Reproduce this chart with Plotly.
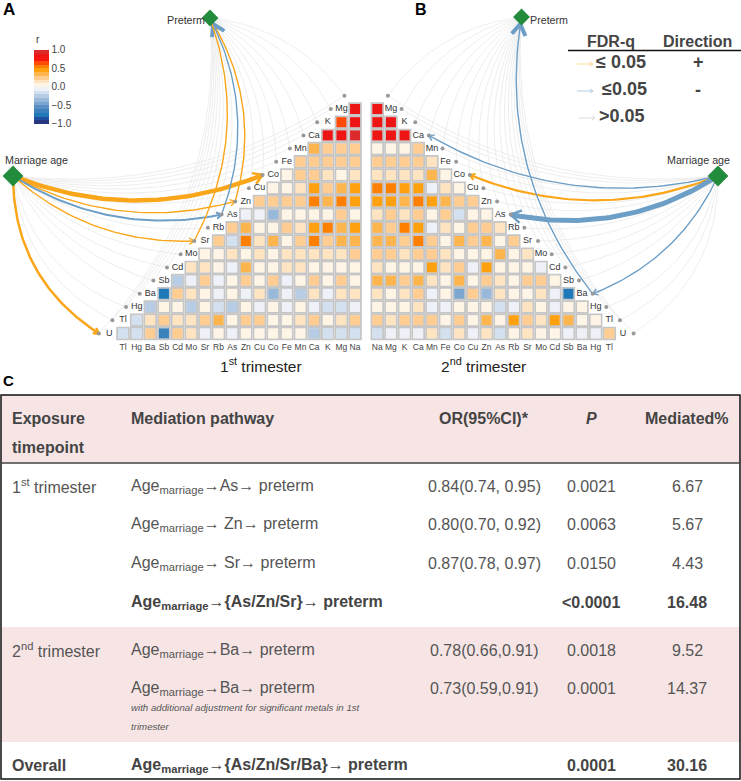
import math
import plotly.graph_objects as go

# ---------- data ----------
rows = ["Mg", "K", "Ca", "Mn", "Fe", "Co", "Cu", "Zn", "As", "Rb", "Sr", "Mo", "Cd", "Sb", "Ba", "Hg", "Tl", "U"]
cols_A = ["Tl", "Hg", "Ba", "Sb", "Cd", "Mo", "Sr", "Rb", "As", "Zn", "Cu", "Co", "Fe", "Mn", "Ca", "K", "Mg", "Na"]
cols_B = cols_A[::-1]

# each row: its cells from left to right, the panel's triangle ends at Na (A) / starts at Na (B)
r_A = [
    [0.82],
    [0.65, 0.82],
    [0.8, 0.85, 0.92],
    [0.38, 0.27, 0.2, 0.27],
    [0.2, 0.28, 0.28, 0.28, 0.27],
    [0.03, 0.2, 0.2, 0.17, 0.08, 0.15],
    [0.1, 0.07, 0.12, 0.42, 0.27, 0.35, 0.4],
    [0.28, 0.3, 0.28, 0.27, 0.58, 0.35, 0.5, 0.45],
    [-0.06, -0.05, -0.4, 0.1, 0.1, 0.07, 0.1, 0.2, 0.1],
    [0.25, 0.32, 0.07, 0.09, 0.23, 0.17, 0.4, 0.5, 0.35, 0.42],
    [0.25, -0.12, 0.5, 0.18, 0.35, 0.07, 0.22, 0.52, 0.25, 0.36, 0.35],
    [0.02, 0.1, 0.14, 0.03, 0.17, 0.07, 0.12, 0.17, 0.15, 0.12, 0.17, 0.22],
    [0.18, 0.12, 0.03, -0.07, 0.32, 0.1, 0.1, 0.12, 0.18, 0.05, 0.07, 0.1, 0.1],
    [-0.22, -0.02, 0.25, -0.05, 0.0, 0.2, 0.1, 0.2, -0.02, 0.07, 0.23, 0.1, 0.2, 0.07],
    [-0.75, 0.2, 0.18, 0.05, -0.07, 0.06, -0.07, 0.18, -0.35, -0.03, -0.27, 0.15, -0.03, 0.15, 0.17],
    [-0.27, 0.07, 0.02, -0.22, 0.08, -0.15, -0.22, 0.1, -0.08, 0.07, -0.07, 0.0, -0.07, -0.12, -0.1, -0.08],
    [-0.1, 0.17, 0.3, 0.15, 0.12, 0.27, 0.32, 0.08, 0.27, 0.22, 0.08, 0.07, 0.14, 0.28, 0.08, 0.13, 0.2],
    [-0.1, -0.15, 0.2, -0.68, 0.2, 0.15, -0.03, 0.03, -0.08, 0.05, 0.0, 0.1, 0.07, 0.0, -0.2, -0.17, -0.15, -0.1],
]
r_B = [
    [0.82],
    [0.82, 0.8],
    [0.85, 0.85, 0.85],
    [0.04, 0.04, 0.1, 0.22],
    [0.27, 0.25, 0.25, 0.27, 0.17],
    [0.13, 0.15, 0.15, 0.18, 0.35, 0.08],
    [0.5, 0.5, 0.42, 0.42, -0.06, 0.18, 0.08],
    [0.42, 0.42, 0.33, 0.52, 0.42, 0.38, 0.3, 0.3],
    [0.18, 0.22, 0.17, 0.27, 0.08, 0.22, -0.17, 0.05, 0.05],
    [0.38, 0.3, 0.55, 0.42, -0.08, 0.17, 0.05, 0.3, 0.25, 0.15],
    [0.33, 0.38, 0.3, 0.5, 0.25, 0.07, 0.33, 0.2, 0.35, 0.1, 0.25],
    [0.23, 0.22, 0.13, 0.25, 0.2, 0.14, 0.03, 0.1, 0.08, 0.33, 0.1, 0.13],
    [0.12, 0.0, 0.1, 0.06, 0.42, 0.17, 0.2, -0.02, 0.4, 0.0, 0.03, 0.1, -0.02],
    [0.32, 0.33, 0.2, 0.35, 0.12, 0.05, 0.36, 0.0, 0.3, 0.12, 0.1, 0.27, 0.2, 0.03],
    [0.17, 0.1, 0.12, 0.22, -0.06, 0.0, -0.5, 0.22, -0.33, 0.15, 0.07, 0.03, 0.12, -0.02, -0.75],
    [0.1, 0.03, 0.03, 0.15, -0.03, -0.01, 0.08, 0.05, 0.05, -0.1, -0.02, 0.17, 0.0, -0.05, 0.05, 0.1],
    [0.2, 0.17, 0.22, 0.25, 0.28, 0.08, 0.2, 0.1, 0.32, 0.03, 0.4, 0.25, 0.13, 0.42, 0.38, 0.0, 0.08],
    [-0.18, -0.06, -0.07, -0.08, 0.15, -0.1, 0.18, -0.04, 0.13, -0.17, 0.03, 0.15, 0.07, 0.1, -0.07, -0.01, -0.01, 0.3],
]

# significant edges: metal -> (direction, weight)
marriage_sig_A = {"Co": ("+", 4.5), "Zn": ("+", 1.4), "As": ("-", 2), "Sr": ("+", 1.4), "U": ("+", 2.5)}
preterm_sig_A = {"Zn": ("+", 1.4), "As": ("-", 1.4), "Sr": ("+", 1.4)}
marriage_sig_B = {"Ca": ("-", 1.4), "Co": ("+", 2.2), "As": ("-", 5), "Ba": ("-", 1.4)}
preterm_sig_B = {"Ba": ("-", 1.4)}

table_header = ["Exposure", "Mediation pathway", "OR(95%CI)*", "P", "Mediated%"]
table_time = ["1<sup>st</sup> trimester", "", "", "", "2<sup>nd</sup> trimester", "", "Overall"]
table_path = [
    "Age<sub>marriage</sub>→As→ preterm",
    "Age<sub>marriage</sub>→ Zn→ preterm",
    "Age<sub>marriage</sub>→ Sr→ preterm",
    "<b>Age<sub>marriage</sub>→{As/Zn/Sr}→ preterm</b>",
    "Age<sub>marriage</sub>→Ba→ preterm",
    "Age<sub>marriage</sub>→Ba→ preterm",
    "<b>Age<sub>marriage</sub>→{As/Zn/Sr/Ba}→ preterm</b>",
]
table_or = ["0.84(0.74, 0.95)", "0.80(0.70, 0.92)", "0.87(0.78, 0.97)", "", "0.78(0.66,0.91)", "0.73(0.59,0.91)", ""]
table_p = ["0.0021", "0.0063", "0.0150", "<b><0.0001</b>", "0.0018", "0.0001", "<b>0.0001</b>"]
table_med = ["6.67", "5.67", "4.43", "<b>16.48</b>", "9.52", "14.37", "<b>30.16</b>"]
table_note = ["with additional adjustment for significant metals in 1st", "trimester"]

palette = ["#26377f", "#1f4f9e", "#1f78b8", "#3b82bd", "#5a90c5", "#7aa6d0", "#98b9da", "#b7cde5", "#d3e0ef", "#eef2f8",
           "#fff5e6", "#ffe4c2", "#ffcd92", "#ffb54d", "#ffa00f", "#ff8000", "#ff4a08", "#f4160f", "#ee1515", "#dc2a2a"]

# ---------- layout geometry (pixels of the 741x781 page) ----------
W, H = 741, 781
FONT = "Liberation Sans"
PITCH_X, PITCH_Y = 13.65, 13.2
A_X0, B_X0, ROW_Y0 = 123.0, 377.3, 109.0
NODE_GAP = 10.6
ORANGE, BLUE, GREY = "#FAA61A", "#6D9EC6", "#EAEAEA"
DIAMOND = "#228B3C"
TXT = "#444444"


def xa(i):
    return A_X0 + i * PITCH_X


def xb(i):
    return B_X0 + i * PITCH_X


def yr(i):
    return ROW_Y0 + i * PITCH_Y


def dom_x(x0):
    return [(x0 - PITCH_X / 2) / W, (x0 + 17.5 * PITCH_X) / W]


fig = go.Figure()


def matrix(values, cols, align_right, xname, yname):
    xs, ys, zs = [], [], []
    for name, cells in zip(rows, values):
        n = len(cells)
        names = cols[-n:] if align_right else cols[:n]
        xs += names
        ys += [name] * n
        zs += cells
    fig.add_trace(go.Scatter(x=xs, y=ys, mode="markers", xaxis=xname, yaxis=yname, hoverinfo="skip",
                             cliponaxis=False, showlegend=False,
                             marker=dict(symbol="square", size=11.5, color="white",
                                         line=dict(color="#C6C6C6", width=2))))
    fig.add_trace(go.Scatter(x=xs, y=ys, mode="markers", xaxis=xname, yaxis=yname,
                             cliponaxis=False, showlegend=False,
                             marker=dict(symbol="square", size=10, color=zs, coloraxis="coloraxis",
                                         line=dict(width=0))))


matrix(r_A, cols_A, True, "x", "y")
matrix(r_B, cols_B, False, "x2", "y2")

# ---------- nodes ----------
metals = ["Na"] + rows  # Na has no row of its own: it sits above Mg
nodes_A, nodes_B = {}, {}
labels_x, labels_y, labels_t = [], [], []
for i, m in enumerate(metals):
    y = yr(i - 1)
    n = i
    nodes_A[m] = (xa(17 - n) - NODE_GAP, y)
    nodes_B[m] = (xb(n) + NODE_GAP, y)
    if m != "Na":
        labels_x += [xa(17 - n), xb(n)]
        labels_y += [y, y]
        labels_t += [m, m]

P_A, M_A = (210, 18), (13, 176)
P_B, M_B = (521.5, 17), (718, 176)


def curve(p0, p1, k, n=50):
    dx, dy = p1[0] - p0[0], p1[1] - p0[1]
    cx = (p0[0] + p1[0]) / 2 - k * dy
    cy = (p0[1] + p1[1]) / 2 + k * dx
    ts = [t / n for t in range(n + 1)]
    xs = [(1 - t) ** 2 * p0[0] + 2 * t * (1 - t) * cx + t * t * p1[0] for t in ts]
    ys = [(1 - t) ** 2 * p0[1] + 2 * t * (1 - t) * cy + t * t * p1[1] for t in ts]
    return xs, ys, (p1[0] - cx, p1[1] - cy)


def line3(xs, ys, color, w):
    fig.add_trace(go.Scatter(x=xs, y=ys, mode="lines", xaxis="x3", yaxis="y3", hoverinfo="skip",
                             showlegend=False, line=dict(color=color, width=w, shape="linear")))


def edge(p0, p1, k, color, w, head=None, standoff=0.0, head_w=None):
    xs, ys, tan = curve(p0, p1, k)
    line3(xs, ys, color, w)
    if head:
        L = math.hypot(*tan)
        ux, uy = tan[0] / L, tan[1] / L
        tx, ty = p1[0] - standoff * ux, p1[1] - standoff * uy
        a = math.radians(32)
        ax1 = tx - head * (ux * math.cos(a) - uy * math.sin(a))
        ay1 = ty - head * (uy * math.cos(a) + ux * math.sin(a))
        ax2 = tx - head * (ux * math.cos(a) + uy * math.sin(a))
        ay2 = ty - head * (uy * math.cos(a) - ux * math.sin(a))
        line3([ax1, tx, ax2], [ay1, ty, ay2], color, head_w or w)


def edges(nodes, marriage, preterm, msig, psig, sign):
    col = {"+": ORANGE, "-": BLUE}
    for m, p in nodes.items():
        if m not in msig:
            edge(marriage, p, sign * (0.27 if m in ("U", "Tl", "Hg") else 0.18), GREY, 0.8)
        if m not in psig:
            edge(p, preterm, sign * 0.22, GREY, 0.8)
    for m, (d, w) in msig.items():
        k = 0.27 if m == "U" else 0.2
        edge(marriage, nodes[m], sign * k, col[d], w, head=max(6, 2.4 * w), head_w=min(w, 2.5))
    for m, (d, w) in psig.items():
        big = d == "-"
        edge(nodes[m], preterm, sign * 0.22, col[d], w,
             head=13 if big else None, standoff=7, head_w=4)


edges(nodes_A, M_A, P_A, marriage_sig_A, preterm_sig_A, 1)
edges(nodes_B, M_B, P_B, marriage_sig_B, preterm_sig_B, -1)

# node dots and labels
dots = list(nodes_A.values()) + list(nodes_B.values())
fig.add_trace(go.Scatter(x=[p[0] for p in dots], y=[p[1] for p in dots], mode="markers", xaxis="x3", yaxis="y3",
                         hoverinfo="skip", showlegend=False, marker=dict(color="#999999", size=4)))
fig.add_trace(go.Scatter(x=labels_x, y=labels_y, text=labels_t, mode="text", xaxis="x3", yaxis="y3",
                         hoverinfo="skip", showlegend=False,
                         textfont=dict(family=FONT, size=9, color="#333333")))
fig.add_trace(go.Scatter(x=[P_A[0], P_B[0]], y=[P_A[1], P_B[1]], mode="markers", xaxis="x3", yaxis="y3",
                         hoverinfo="skip", showlegend=False,
                         marker=dict(symbol="diamond", size=13, color=DIAMOND)))
fig.add_trace(go.Scatter(x=[M_A[0], M_B[0]], y=[M_A[1], M_B[1]], mode="markers", xaxis="x3", yaxis="y3",
                         hoverinfo="skip", showlegend=False,
                         marker=dict(symbol="diamond", size=16, color=DIAMOND)))

# legend arrows
line3([577, 593], [64, 64], "#FFD591", 1)
line3([590, 593, 590], [62, 64, 66], "#FFD591", 1)
line3([577, 593], [91, 91], "#AECBE2", 1)
line3([590, 593, 590], [89, 91, 93], "#AECBE2", 1)
line3([579, 595], [118, 118], "#DDDDDD", 1)
line3([592, 595, 592], [116, 118, 120], "#DDDDDD", 1)

# ---------- text ----------
ann = []


def T(x, y, s, size, anchor="left", color=TXT, **kw):
    if not s:
        return
    ann.append(dict(x=x, y=y, text=s, xref="x3", yref="y3", showarrow=False, xanchor=anchor, yanchor="middle",
                    align=anchor, font=dict(family=FONT, size=size, color=color, **kw)))


T(1, 9, "<b>A</b>", 17, color="#000000")
T(413, 9, "<b>B</b>", 16, color="#000000")
T(1, 380, "<b>C</b>", 15, color="#000000")
T(3, 160, "Marriage age", 10.7, color="#333333")
T(665, 160, "Marriage age", 10.7, color="#333333")
T(165, 20, "Preterm", 10.7, color="#333333")
T(528, 20, "Preterm", 10.7, color="#333333")
T(34, 39, "r", 10, color="#333333")
T(261, 365, "1<sup>st</sup> trimester", 15.5, "center", "#222222")
T(483, 365, "2<sup>nd</sup> trimester", 15.5, "center", "#222222")

# legend table
T(611, 41, "<b>FDR-q</b>", 16, "center")
T(697, 41, "<b>Direction</b>", 16, "center")
T(594, 62, "<b>≤ 0.05</b>", 18)
T(600, 89, "<b>≤0.05</b>", 18)
T(597, 116, "<b>>0.05</b>", 18)
T(698, 62, "<b>+</b>", 18, "center")
T(698, 90, "<b>-</b>", 18, "center")

# table
T(10, 418, "<b>" + table_header[0] + "</b>", 16)
T(10, 447, "<b>timepoint</b>", 16)
T(129, 418, "<b>" + table_header[1] + "</b>", 16)
T(484, 418, "<b>" + table_header[2] + "</b>", 16, "center")
T(591, 418, "<b><i>" + table_header[3] + "</i></b>", 16, "center")
T(687, 418, "<b>" + table_header[4] + "</b>", 16, "center")
row_y = [486, 524, 563, 602, 650, 688, 765]
for i, y in enumerate(row_y):
    lab = table_time[i]
    if lab == "Overall":
        lab = "<b>Overall</b>"
    T(10, y, lab, 16, color="#555555" if i != 6 else TXT)
    T(129, y, table_path[i], 16, color="#555555" if "<b>" not in table_path[i] else TXT)
    T(484, y, table_or[i], 16, "center", "#555555")
    T(591, y, table_p[i], 16, "center", "#555555" if "<b>" not in table_p[i] else TXT)
    T(687, y, table_med[i], 16, "center", "#555555" if "<b>" not in table_med[i] else TXT)
T(129, 707, "<i>" + table_note[0] + "</i>", 9.7, color="#555555")
T(129, 726, "<i>" + table_note[1] + "</i>", 9.7, color="#555555")

PINK = "#F7E5E5"
shapes = [
    dict(type="rect", x0=1, x1=740, y0=395, y1=463, fillcolor=PINK, line_width=0, layer="below"),
    dict(type="rect", x0=1, x1=740, y0=627, y1=742, fillcolor=PINK, line_width=0, layer="below"),
    dict(type="rect", x0=1, x1=740, y0=395, y1=779, line=dict(color="#111111", width=1.5), layer="below"),
    dict(type="line", x0=1, x1=740, y0=463, y1=463, line=dict(color="#444444", width=1.5), layer="below"),
    dict(type="line", x0=568, x1=741, y0=50.5, y1=50.5, line=dict(color="#111111", width=1.5), layer="below"),
]
for s in shapes:
    s.update(xref="x3", yref="y3")

stops = []
for i, c in enumerate(palette):
    stops += [[i / len(palette), c], [(i + 1) / len(palette), c]]

ydom = [1 - (yr(17) + PITCH_Y / 2) / H, 1 - (yr(0) - PITCH_Y / 2) / H]
tick = dict(family=FONT, size=8.5, color=TXT)
hidden_y = dict(domain=ydom, type="category", categoryorder="array", categoryarray=rows[::-1],
                range=[-0.5, 17.5], showticklabels=False, showgrid=False, zeroline=False, ticks="")


def xax(x0, cols, anchor):
    return dict(domain=dom_x(x0), type="category", categoryorder="array", categoryarray=cols,
                range=[-0.5, 17.5], showgrid=False, zeroline=False, ticks="", tickfont=tick,
                tickangle=0, showline=False, anchor=anchor, tickmode="array", tickvals=cols, ticktext=cols)


fig.update_layout(
    width=W, height=H, margin=dict(l=0, r=0, t=0, b=0), autosize=False,
    paper_bgcolor="white", plot_bgcolor="rgba(0,0,0,0)", showlegend=False,
    font=dict(family=FONT),
    xaxis=xax(A_X0, cols_A, "y"), yaxis=dict(hidden_y, anchor="x"),
    xaxis2=xax(B_X0, cols_B, "y2"), yaxis2=dict(hidden_y, anchor="x2"),
    xaxis3=dict(domain=[0, 1], range=[0, W], visible=False, anchor="y3", fixedrange=True),
    yaxis3=dict(domain=[0, 1], range=[H, 0], visible=False, anchor="x3", fixedrange=True),
    coloraxis=dict(cmin=-1, cmax=1, colorscale=stops,
                   colorbar=dict(x=34 / W, xanchor="left", xpad=0, y=1 - 49.5 / H, yanchor="top", ypad=0,
                                 lenmode="pixels", len=74, thicknessmode="pixels", thickness=15,
                                 outlinewidth=0, ticks="", tickvals=[1, 0.5, 0, -0.5, -1], tickformat=".1f",
                                 tickfont=dict(family=FONT, size=10, color=TXT))),
    annotations=ann, shapes=shapes,
)

fig.write_html("out.html", config={"displayModeBar": False},
               post_script="document.body.style.margin='0';document.documentElement.style.overflow='hidden';")
